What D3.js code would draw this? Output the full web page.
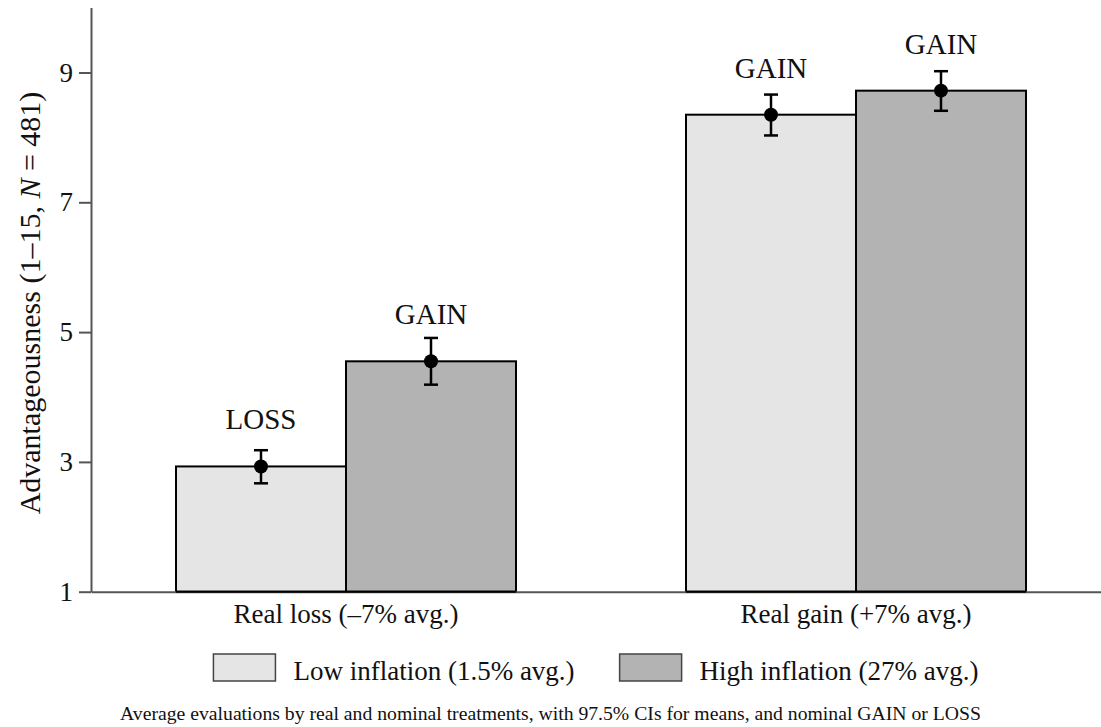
<!DOCTYPE html>
<html>
<head>
<meta charset="utf-8">
<script src="https://cdn.jsdelivr.net/npm/d3@7/dist/d3.min.js"></script>
<style>
html,body{margin:0;padding:0;background:#fff;}
svg{display:block;font-family:"Liberation Serif","Times New Roman","DejaVu Serif",serif;}
</style>
</head>
<body>
<svg id="chart" width="1101" height="727"></svg>
<script>
// ---- data ----
const groups = ["Real loss (\u20137% avg.)", "Real gain (+7% avg.)"];
const series = ["Low inflation (1.5% avg.)", "High inflation (27% avg.)"];
const means   = [[2.93, 4.55], [8.35, 8.72]];
const ciLow   = [[2.67, 4.19], [8.03, 8.41]];
const ciHigh  = [[3.18, 4.91], [8.66, 9.02]];
const nominal = [["LOSS", "GAIN"], ["GAIN", "GAIN"]];
const yTicks  = [1, 3, 5, 7, 9];
const colors  = ["#e5e5e5", "#b3b3b3"];

const svg = d3.select("#chart");
const W = 1101;

const y = d3.scaleLinear().domain([1, 10]).range([591.7, 7.6]);
const x0 = d3.scaleBand().domain(groups).range([91, 1111]).paddingInner(1/3).paddingOuter(1/6);
const x1 = d3.scaleBand().domain(series).range([0, x0.bandwidth()]);

const rows = [];
groups.forEach((g, gi) => series.forEach((s, si) => rows.push({
  g, s, si, v: means[gi][si], lo: ciLow[gi][si], hi: ciHigh[gi][si], lab: nominal[gi][si]
})));

// bars
svg.append("g").selectAll("rect").data(rows).join("rect")
  .attr("x", d => x0(d.g) + x1(d.s))
  .attr("y", d => y(d.v))
  .attr("width", x1.bandwidth())
  .attr("height", d => y(1) - y(d.v))
  .attr("fill", d => colors[d.si])
  .attr("stroke", "#000")
  .attr("stroke-width", 2);

// y axis
const yAxis = svg.append("g").attr("transform", "translate(91,0)")
  .call(d3.axisLeft(y).tickValues(yTicks).tickSize(12).tickPadding(6).tickSizeOuter(0));
yAxis.attr("font-family", null);
yAxis.select(".domain").attr("stroke", "#555").attr("stroke-width", 2);
yAxis.selectAll(".tick line").attr("stroke", "#555").attr("stroke-width", 2);
yAxis.selectAll(".tick text").attr("font-size", 27).attr("fill", "#111");

// x axis line
const xAxis = svg.append("g").attr("transform", `translate(0,${y(1)})`)
  .call(d3.axisBottom(d3.scaleLinear().domain([0, 1]).range([91, W])).tickValues([]).tickSizeOuter(0));
xAxis.select(".domain").attr("stroke", "#555").attr("stroke-width", 2);

// bar bottom borders over axis
svg.append("g").selectAll("line").data(rows).join("line")
  .attr("x1", d => x0(d.g) + x1(d.s)).attr("x2", d => x0(d.g) + x1(d.s) + x1.bandwidth())
  .attr("y1", y(1)).attr("y2", y(1)).attr("stroke", "#000").attr("stroke-width", 2);

// category labels
svg.append("g").selectAll("text").data(groups).join("text")
  .attr("x", d => x0(d) + x0.bandwidth() / 2)
  .attr("y", y(1) + 31)
  .attr("text-anchor", "middle")
  .attr("font-size", 27)
  .attr("fill", "#111")
  .text(d => d);

// error bars
const cx = d => x0(d.g) + x1(d.s) + x1.bandwidth() / 2;
const eb = svg.append("g").attr("stroke", "#000").attr("stroke-width", 2.5);
eb.selectAll("line.v").data(rows).join("line").attr("class", "v")
  .attr("x1", cx).attr("x2", cx).attr("y1", d => y(d.lo)).attr("y2", d => y(d.hi));
eb.selectAll("line.t").data(rows).join("line").attr("class", "t")
  .attr("x1", d => cx(d) - 7).attr("x2", d => cx(d) + 7).attr("y1", d => y(d.hi)).attr("y2", d => y(d.hi));
eb.selectAll("line.b").data(rows).join("line").attr("class", "b")
  .attr("x1", d => cx(d) - 7).attr("x2", d => cx(d) + 7).attr("y1", d => y(d.lo)).attr("y2", d => y(d.lo));
svg.append("g").selectAll("circle").data(rows).join("circle")
  .attr("cx", cx).attr("cy", d => y(d.v)).attr("r", 7).attr("fill", "#000");

// nominal labels
svg.append("g").selectAll("text").data(rows).join("text")
  .attr("x", cx).attr("y", d => y(d.v) - 37)
  .attr("text-anchor", "middle").attr("font-size", 29).attr("fill", "#111")
  .text(d => d.lab);

// y axis title
const yt = svg.append("text")
  .attr("transform", "translate(40,303) rotate(-90)")
  .attr("text-anchor", "middle").attr("font-size", 30).attr("fill", "#111");
yt.append("tspan").text("Advantageousness (1\u201315, ");
yt.append("tspan").attr("font-style", "italic").text("N");
yt.append("tspan").text(" = 481)");

// legend
const leg = svg.append("g");
const items = leg.selectAll("g").data(series).join("g");
items.append("rect").attr("width", 62).attr("height", 27).attr("y", -26)
  .attr("fill", (d, i) => colors[i]).attr("stroke", "#444").attr("stroke-width", 1.5);
items.append("text").attr("x", 80).attr("y", 0).attr("font-size", 27).attr("fill", "#111").text(d => d);
let off = 0;
items.each(function () {
  const w = d3.select(this).select("text").node().getComputedTextLength();
  d3.select(this).attr("transform", `translate(${off},0)`);
  off += 80 + w + 45;
});
const legW = off - 45;
const plotC = (91 + W) / 2;
leg.attr("transform", `translate(${plotC - legW / 2},680)`);

// caption
svg.append("text").attr("x", W / 2).attr("y", 720).attr("text-anchor", "middle")
  .attr("font-size", 19.7).attr("fill", "#111")
  .text("Average evaluations by real and nominal treatments, with 97.5% CIs for means, and nominal GAIN or LOSS");
</script>
</body>
</html>
